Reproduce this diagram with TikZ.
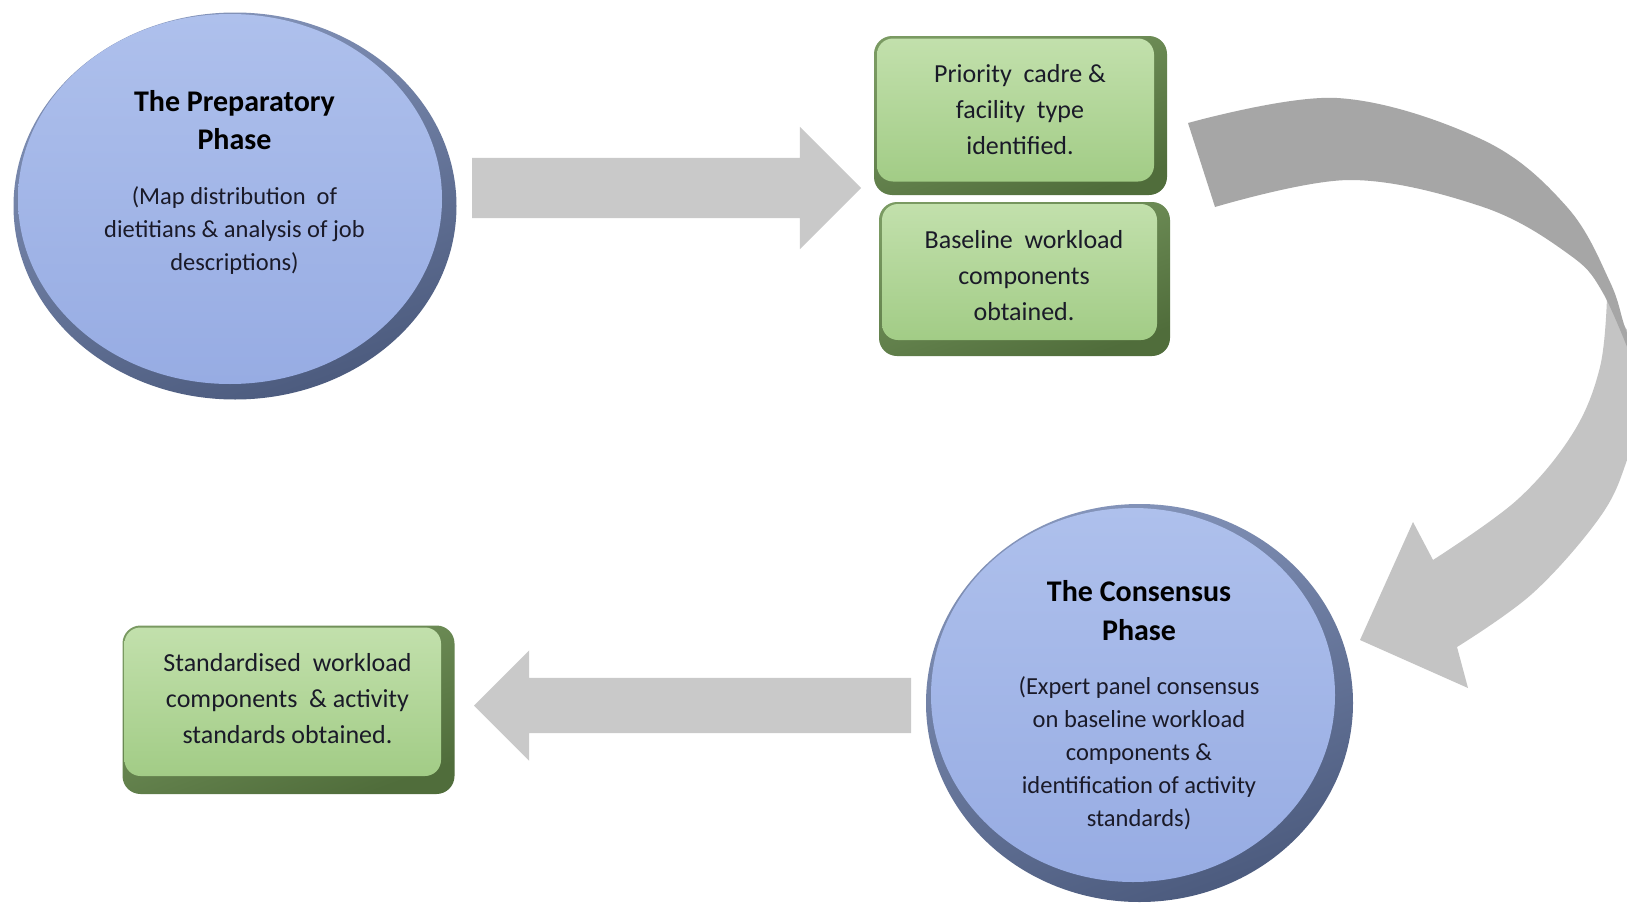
\documentclass[tikz,border=0pt]{standalone}
\usepackage{fontspec}
\setmainfont{Carlito}
\usetikzlibrary{shapes.arrows}

\definecolor{rimtop}{HTML}{8494BA}
\definecolor{rimbot}{HTML}{4C5B7E}
\definecolor{facetop}{HTML}{AEC0EC}
\definecolor{facebot}{HTML}{97ACE3}
\definecolor{grimtop}{HTML}{7A9A62}
\definecolor{grimbot}{HTML}{506D3B}
\definecolor{gfacetop}{HTML}{C2E0AC}
\definecolor{gfacebot}{HTML}{A2CC86}
\definecolor{arrowgray}{HTML}{C9C9C9}
\definecolor{bandgray}{HTML}{A6A6A6}
\definecolor{bandlight}{HTML}{C4C4C4}
\definecolor{ink}{HTML}{1A1A28}

\tikzset{
  rimblue/.style={top color=rimtop, bottom color=rimbot, shading angle=20},
  faceblue/.style={top color=facetop, bottom color=facebot},
  rimgreen/.style={top color=grimtop, bottom color=grimbot, shading angle=20},
  facegreen/.style={top color=gfacetop, bottom color=gfacebot},
  phasehead/.style={font=\fontsize{30}{38.5}\selectfont\bfseries, text=black, align=center, inner sep=0pt},
  phasebody/.style={font=\fontsize{24.5}{33}\selectfont, text=ink, align=center, inner sep=0pt},
  boxtext/.style={font=\fontsize{26}{36}\selectfont, text=ink, align=center, inner sep=0pt},
  blockarrow/.style={single arrow, fill=arrowgray, draw=none, inner xsep=0pt,
    outer sep=0pt, single arrow tip angle=90},
}

\begin{document}
\begin{tikzpicture}[x=1pt, y=-1pt]
\clip (0,0) rectangle (1627,902);
\fill[white] (0,0) rectangle (1627,902);

% ---- Preparatory phase (bevelled ellipse) ----
\shade[rimblue] (235,206) ellipse [x radius=221.5, y radius=193.5];
\shade[faceblue] (230,199) ellipse [x radius=212, y radius=185];
\node[phasehead] (prepHead) at (234.5,120) {The Preparatory\\Phase};
\node[phasebody] (prepBody) at (234.5,231) {(Map distribution~ of\\dietitians \& analysis of job\\descriptions)};

% ---- Consensus phase (bevelled ellipse) ----
\shade[rimblue] (1139.5,703) ellipse [x radius=213.5, y radius=199];
\shade[faceblue] (1133,695) ellipse [x radius=202, y radius=187];
\node[phasehead] (consHead) at (1139,610.5) {The Consensus\\Phase};
\node[phasebody] (consBody) at (1139,753.5) {(Expert panel consensus\\on baseline workload\\components \&\\identification of activity\\standards)};

% ---- Green outcome boxes ----
\shade[rimgreen, rounded corners=18pt] (874,36) rectangle (1167,195);
\shade[facegreen, rounded corners=16pt] (877,38.5) rectangle (1154,181.5);
\node[boxtext] (cadre) at (1020,110) {Priority~ cadre \&\\facility~ type\\identified.};

\shade[rimgreen, rounded corners=18pt] (879,202) rectangle (1170,356);
\shade[facegreen, rounded corners=16pt] (882,204) rectangle (1157,340);
\node[boxtext] (baseline) at (1024,276) {Baseline~ workload\\components\\obtained.};

\shade[rimgreen, rounded corners=18pt] (122.5,625.5) rectangle (454.5,794);
\shade[facegreen, rounded corners=16pt] (124.5,627.5) rectangle (441,776);
\node[boxtext] (standard) at (287.5,699) {Standardised~ workload\\components~ \& activity\\standards obtained.};

% ---- Straight block arrows ----
\node[blockarrow, inner ysep=30pt, single arrow head extend=31pt,
      minimum height=389pt, anchor=tail] (toOutputs) at (472,188) {};
\node[blockarrow, inner ysep=27.5pt, single arrow head extend=27.5pt,
      minimum height=437pt, shape border rotate=180, anchor=tail] (toStandard) at (911,705.5) {};

% ---- Curved ribbon arrow from the outputs down to the consensus phase ----
\fill[bandlight]
  plot[smooth, tension=0.6] coordinates {(1607,297) (1600,367) (1573,433) (1517,500) (1433,560)}
  -- (1413,522) -- (1360,640) -- (1468,688) -- (1457,647)
  -- plot[smooth, tension=0.6] coordinates {(1457,647) (1533,593) (1600,517) (1627,460) (1645,390) (1636,345)}
  -- cycle;
\fill[bandgray] (1188,123) -- (1215,207)
  -- plot[smooth, tension=0.6] coordinates {(1215,207) (1350,180) (1483,207) (1567,253) (1603,293) (1640,380)}
  -- plot[smooth, tension=0.6] coordinates {(1655,400) (1627,333) (1610,282) (1567,207) (1483,140) (1337,98) (1188,123)}
  -- cycle;
\end{tikzpicture}
\end{document}
